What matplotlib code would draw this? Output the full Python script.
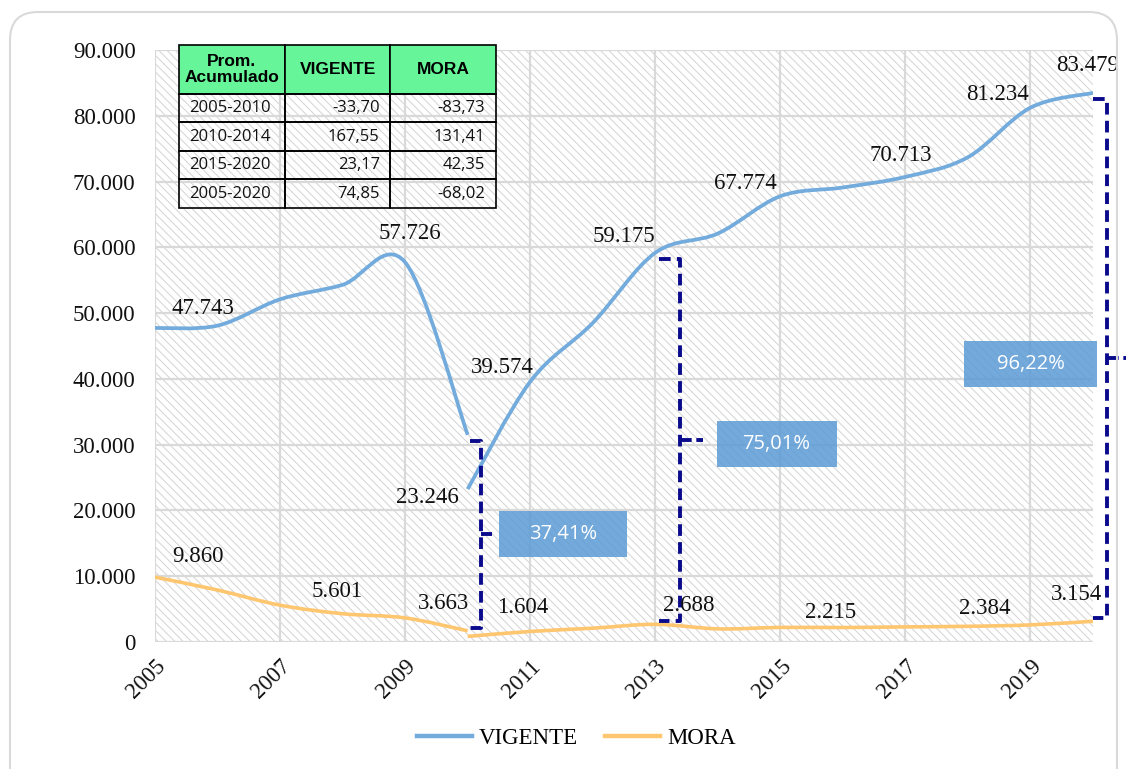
import numpy as np
import matplotlib
matplotlib.use('Agg')
import matplotlib.pyplot as plt
from matplotlib.path import Path
from matplotlib.patches import PathPatch, Rectangle, FancyBboxPatch
from matplotlib.lines import Line2D
from matplotlib.table import Table
from matplotlib.ticker import FuncFormatter, MultipleLocator
from matplotlib.transforms import IdentityTransform

# VIGENTE: the series breaks in 2010
vig_years_a = [2005, 2006, 2007, 2008, 2009, 2010]
vig_a = [47743, 48100, 52100, 54300, 57726, 31500]
vig_years_b = [2010, 2011, 2012, 2013, 2014, 2015, 2016, 2017, 2018, 2019, 2020]
vig_b = [23246, 39574, 48500, 59175, 62100, 67774, 69100, 70713, 73700, 81234, 83479]

# MORA: same break
mora_years_a = [2005, 2006, 2007, 2008, 2009, 2010]
mora_a = [9860, 7900, 5601, 4300, 3663, 1700]
mora_years_b = [2010, 2011, 2012, 2013, 2014, 2015, 2016, 2017, 2018, 2019, 2020]
mora_b = [850, 1604, 2100, 2688, 2000, 2215, 2200, 2300, 2384, 2600, 3154]

# years that carry a data label
vig_label_years = [2005, 2009, 2010, 2011, 2013, 2015, 2017, 2019, 2020]
mora_label_years = [2005, 2007, 2009, 2011, 2013, 2015, 2018, 2020]
x_ticks = [2005, 2007, 2009, 2011, 2013, 2015, 2017, 2019]

# table
tbl_header = ['Prom.\nAcumulado', 'VIGENTE', 'MORA']
tbl_periods = ['2005-2010', '2010-2014', '2015-2020', '2005-2020']
tbl_vigente = ['-33,70', '167,55', '23,17', '74,85']
tbl_mora = ['-83,73', '131,41', '42,35', '-68,02']

# growth brackets
bracket_years = [2010, 2013, 2020]
bracket_pct = ['37,41%', '75,01%', '96,22%']

C_VIG = '#72abdc'
C_MORA = '#ffc670'
C_BRK = '#0a0a8c'
C_BOX = '#5b9bd5'
SERIF = 'Liberation Serif'
SANS = 'Open Sans'


def smooth_path(xs, ys):
    # catmull-rom -> bezier, like excel's smoothed line
    p = np.column_stack([xs, ys]).astype(float)
    n = len(p)
    verts = [p[0]]
    codes = [Path.MOVETO]
    for i in range(n - 1):
        p0 = p[i - 1] if i > 0 else p[i]
        p3 = p[i + 2] if i + 2 < n else p[i + 1]
        c1 = p[i] + (p[i + 1] - p0) / 6
        c2 = p[i + 1] - (p3 - p[i]) / 6
        verts += [c1, c2, p[i + 1]]
        codes += [Path.CURVE4] * 3
    return Path(verts, codes)


def fmt(v):
    return f'{int(v):,}'.replace(',', '.')


plt.rcParams['hatch.linewidth'] = 0.7
fig = plt.figure(figsize=(11.28, 7.69), dpi=100)
ax = fig.add_axes([155 / 1128, 1 - 642 / 769, 938 / 1128, 592 / 769])

# outer rounded frame
fig.add_artist(FancyBboxPatch((10, -30), 1107, 787, boxstyle='round,pad=0,rounding_size=28',
                              transform=IdentityTransform(), facecolor='none',
                              edgecolor='#d9d9d9', lw=1.5))

ax.add_patch(Rectangle((0, 0), 1, 1, transform=ax.transAxes, facecolor='white',
                       edgecolor='#d3d3d3', hatch='\\\\\\\\', lw=0, zorder=0))
ax.set_xlim(2005, 2020)
ax.set_ylim(0, 90000)
ax.set_xticks(x_ticks)
ax.yaxis.set_major_locator(MultipleLocator(10000))
ax.yaxis.set_major_formatter(FuncFormatter(lambda v, p: fmt(v)))
ax.grid(True, color='#d9d9d9', lw=1.6, zorder=0.5)
ax.set_axisbelow(True)
for s in ax.spines.values():
    s.set_visible(False)
ax.tick_params(length=0, labelsize=16.5, labelcolor='#111111')
ax.tick_params(axis='y', pad=14)
ax.tick_params(axis='x', pad=10)
for lab in ax.get_yticklabels():
    lab.set_fontfamily(SERIF)
for lab in ax.get_xticklabels():
    lab.set_fontfamily(SERIF)
    lab.set_rotation(45)
    lab.set_ha('right')
    lab.set_va('top')
    lab.set_rotation_mode('anchor')

# lines
for xs, ys, c, lw in [(vig_years_a, vig_a, C_VIG, 2.7), (vig_years_b, vig_b, C_VIG, 2.7),
                      (mora_years_a, mora_a, C_MORA, 2.6), (mora_years_b, mora_b, C_MORA, 2.6)]:
    ax.add_patch(PathPatch(smooth_path(xs, ys), fill=False, edgecolor=c, lw=lw,
                           capstyle='butt', zorder=2))

# data labels
vig_pts = dict(zip(vig_years_a[:-1], vig_a[:-1]))
vig_pts.update(zip(vig_years_b, vig_b))
mora_pts = dict(zip(mora_years_a[:-1], mora_a[:-1]))
mora_pts.update(zip(mora_years_b, mora_b))
vig_off = [(48, 19), (5, 29), (-40, -8), (-28, 14), (-31, 16), (-35, 13), (-5, 21), (-33, 13), (-5, 27)]
mora_off = [(43, 21), (57, 14), (38, 14), (-8, 24), (33, 19), (50, 15), (17, 18), (-17, 27)]
for yrs, pts, offs in [(vig_label_years, vig_pts, vig_off), (mora_label_years, mora_pts, mora_off)]:
    for yr, (dx, dy) in zip(yrs, offs):
        ax.annotate(fmt(pts[yr]), (yr, pts[yr]), xytext=(dx, dy), textcoords='offset pixels',
                    ha='center', va='center', fontsize=16.5, family=SERIF,
                    color='#111111', zorder=6, annotation_clip=False)

# brackets + percentage boxes
brk_top = [vig_a[-1], vig_pts[2013], vig_pts[2020]]
brk_bot = [mora_a[-1], mora_pts[2013], mora_pts[2020]]
brk_left = [0.04, 0.06, 0.0]
brk_vert = [0.22, 0.40, 0.23]
brk_tick = [0.39, 0.77, 0.52]
box_x = [(2010.50, 2012.55), (2013.98, 2015.90), (2017.94, 2020.07)]
box_dy = [0, -700, -900]
for i, yr in enumerate(bracket_years):
    top = brk_top[i] - 900
    bot = brk_bot[i] + 500
    xl, xv = yr + brk_left[i], yr + brk_vert[i]
    ax.plot([xl, xv, xv, xl], [top, top, bot, bot], color=C_BRK, lw=2.8,
            ls=(0, (3, 1.6)), solid_joinstyle='round', dash_joinstyle='round',
            clip_on=False, zorder=3)
    mid = (top + bot) / 2
    ax.plot([xv, yr + brk_tick[i]], [mid, mid], color=C_BRK, lw=2.8, ls=(0, (3, 1.2)),
            clip_on=False, zorder=3)
    x0, x1 = box_x[i]
    cy = mid + box_dy[i]
    ax.add_patch(Rectangle((x0, cy - 3500), x1 - x0, 7000, facecolor=C_BOX, alpha=0.85,
                           lw=0, zorder=4, clip_on=False))
    ax.text((x0 + x1) / 2, cy, bracket_pct[i], ha='center', va='center', color='white',
            fontsize=14.5, family=SANS, zorder=5)

# summary table
tab = Table(ax, bbox=[24 / 938, 434 / 592, 317 / 938, 163 / 592])
for c, h in enumerate(tbl_header):
    cell = tab.add_cell(0, c, width=1, height=48, text=h, loc='center',
                        facecolor='#66f599', edgecolor='black')
    cell.set_linewidth(1.2)
    cell.get_text().set_fontproperties({'family': 'Liberation Sans', 'weight': 'bold', 'size': 12.5})
    cell.get_text().set_linespacing(1.05)
cols = [tbl_periods, tbl_vigente, tbl_mora]
for r in range(len(tbl_periods)):
    for c in range(3):
        cell = tab.add_cell(r + 1, c, width=1, height=28, text=cols[c][r],
                            loc='left' if c == 0 else 'right', facecolor='none',
                            edgecolor='black', fill=False)
        cell.set_linewidth(1.2)
        cell.get_text().set_fontproperties({'family': SANS, 'size': 12})
        cell.get_text().set_color('#111111')
tab.auto_set_font_size(False)
tab.set_zorder(7)
ax.add_table(tab)
tab.set_clip_on(False)

# legend
handles = [Line2D([], [], color=C_VIG, lw=3.2), Line2D([], [], color=C_MORA, lw=3.2)]
fig.legend(handles, ['VIGENTE', 'MORA'], loc='center', bbox_to_anchor=(0.511, 0.040),
           ncol=2, frameon=False, prop={'family': SERIF, 'size': 16.5},
           handlelength=2.4, handletextpad=0.3, columnspacing=1.2)

fig.savefig('out.png', dpi=100)
